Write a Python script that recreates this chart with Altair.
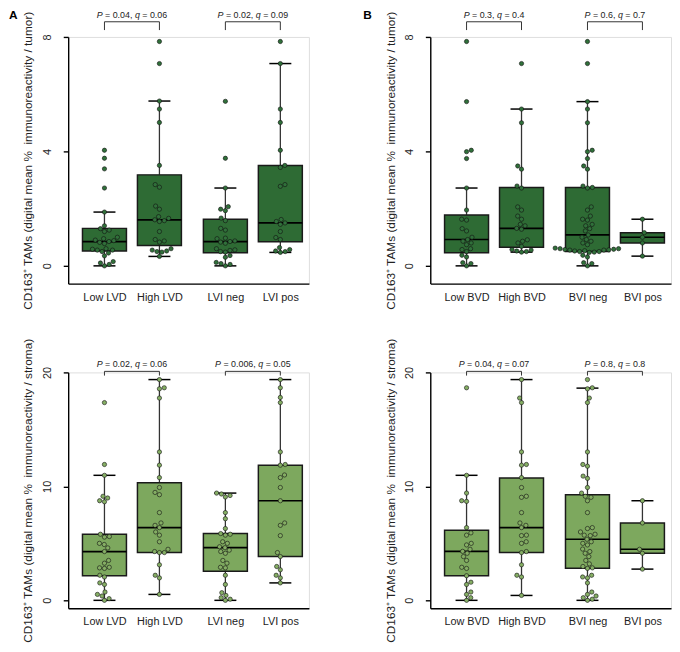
import math
import pandas as pd
import altair as alt

FONT = "Liberation Sans"

# ---------------- categories / positions ----------------
groups_a = ["Low LVD", "High LVD", "LVI neg", "LVI pos"]
groups_b = ["Low BVD", "High BVD", "BVI neg", "BVI pos"]
cat_pos = [1.0, 2.0, 3.2, 4.2]

title_top = "CD163\u207a TAMs (digital mean %\u00a0 immunoreactivity / tumor)"
title_bot = "CD163\u207a TAMs (digital mean %\u00a0 immunoreactivity / stroma)"

# ---------------- data: tumor (top row) ----------------
a_top_low_lvd = [4.04, 3.76, 3.39, 2.72, 1.88, 1.4, 1.3, 1.25, 1.2, 1.0, 0.95, 0.9, 0.88, 0.85,
                 0.82, 0.78, 0.6, 0.58, 0.55, 0.55, 0.5, 0.45, 0.35, 0.15, 0.1, 0.05, 0.0]
a_top_high_lvd = [7.84, 7.07, 5.76, 5.48, 5.01, 3.51, 2.84, 2.75, 2.09, 1.98, 1.72, 1.66, 1.61,
                  1.58, 1.55, 1.2, 0.92, 0.87, 0.83, 0.6, 0.55, 0.52, 0.5, 0.48, 0.33]
a_top_lvi_neg = [5.75, 3.76, 2.72, 2.07, 1.98, 1.93, 1.67, 1.58, 1.31, 1.25, 0.97, 0.95, 0.87,
                 0.85, 0.83, 0.79, 0.6, 0.56, 0.54, 0.5, 0.48, 0.36, 0.3, 0.12, 0.08, 0.05, 0.0]
a_top_lvi_pos = [7.84, 7.07, 5.48, 5.01, 4.04, 3.51, 3.44, 2.84, 2.78, 1.62, 1.55, 1.5, 1.45,
                 1.2, 0.99, 0.92, 0.64, 0.57, 0.52, 0.5, 0.47]

b_top_low_bvd = [7.84, 5.74, 4.04, 3.99, 3.75, 2.72, 1.95, 1.63, 1.6, 1.3, 1.22, 1.0, 0.92, 0.86,
                 0.8, 0.74, 0.6, 0.57, 0.5, 0.37, 0.31, 0.11, 0.08, 0.0]
b_top_high_bvd = [7.07, 5.48, 5.0, 3.49, 3.38, 2.79, 2.72, 2.06, 1.95, 1.74, 1.63, 1.45, 1.4,
                  1.31, 1.28, 0.91, 0.86, 0.8, 0.68, 0.57, 0.55, 0.52, 0.5, 0.48]
b_top_bvi_neg = [7.84, 7.07, 5.74, 5.48, 5.0, 4.04, 3.99, 3.75, 3.49, 3.38, 2.79, 2.74, 2.72,
                 2.06, 1.95, 1.74, 1.63, 1.6, 1.45, 1.4, 1.3, 1.22, 1.08, 1.0, 0.92, 0.86, 0.8,
                 0.74, 0.62, 0.6, 0.6, 0.58, 0.57, 0.56, 0.55, 0.55, 0.53, 0.52, 0.5, 0.5, 0.48,
                 0.47, 0.37, 0.31, 0.11, 0.08, 0.0]
b_top_bvi_pos = [1.63, 1.16, 1.0, 0.8, 0.34]

# box statistics: lower whisker, Q1, median, Q3, upper whisker
a_top_stats = [(0.0, 0.52, 0.85, 1.31, 1.88), (0.33, 0.71, 1.61, 3.18, 5.76),
               (0.0, 0.46, 0.85, 1.63, 2.72), (0.47, 0.84, 1.5, 3.51, 7.07)]
b_top_stats = [(0.0, 0.46, 0.92, 1.78, 2.72), (0.48, 0.65, 1.31, 2.74, 5.48),
               (0.0, 0.5, 1.08, 2.74, 5.74), (0.34, 0.8, 1.0, 1.16, 1.63)]

# ---------------- data: stroma (bottom row) ----------------
a_bot_low_lvd = [17.35, 11.92, 10.97, 9.13, 8.98, 8.74, 8.65, 5.8, 5.6, 5.55, 5.0, 4.9, 4.6, 4.28,
                 3.5, 3.26, 2.9, 2.85, 2.8, 2.2, 2.05, 1.53, 1.39, 0.73, 0.52, 0.38, 0.15, 0.0]
a_bot_high_lvd = [19.37, 18.65, 18.56, 17.75, 13.02, 11.86, 10.77, 9.9, 9.47, 9.27, 7.7, 6.79,
                  6.58, 6.38, 6.0, 5.72, 5.14, 4.48, 4.28, 4.19, 4.19, 3.12, 2.2, 1.97, 0.52]
a_bot_lvi_neg = [9.41, 9.33, 9.2, 9.07, 7.7, 7.16, 6.3, 5.86, 5.8, 5.72, 5.14, 5.0, 4.7, 4.62,
                 4.4, 4.28, 4.13, 3.5, 3.26, 2.9, 2.85, 2.2, 1.39, 0.67, 0.43, 0.23, 0.1, 0.0]
a_bot_lvi_pos = [19.37, 18.65, 17.8, 17.35, 13.02, 11.92, 11.86, 11.0, 10.77, 9.9, 8.74, 6.79,
                 6.58, 5.68, 4.19, 3.84, 2.97, 2.68, 2.2, 1.97, 1.53]

b_bot_low_bvd = [18.65, 10.97, 9.41, 8.74, 8.68, 6.38, 5.92, 5.72, 5.0, 4.86, 4.48, 4.3, 4.13,
                 3.84, 3.5, 2.9, 2.8, 2.16, 1.59, 1.39, 0.73, 0.52, 0.23, 0.0]
b_bot_high_bvd = [19.37, 17.75, 17.35, 13.02, 11.92, 11.86, 10.77, 9.9, 9.13, 9.04, 7.7, 6.79,
                  6.58, 6.38, 5.72, 5.68, 5.14, 5.0, 4.28, 4.19, 3.12, 2.2, 2.05, 0.43]
b_bot_bvi_neg = [19.37, 18.65, 18.56, 17.75, 17.35, 13.02, 11.92, 11.77, 10.9, 10.7, 9.9, 9.41,
                 9.13, 9.04, 8.74, 7.7, 6.38, 6.3, 6.0, 5.8, 5.72, 5.68, 5.36, 5.14, 5.0, 4.86,
                 4.5, 4.28, 4.13, 3.84, 3.5, 3.2, 2.97, 2.85, 2.8, 2.2, 2.05, 1.97, 1.53, 0.73,
                 0.52, 0.38, 0.23, 0.1, 0.0]
b_bot_bvi_pos = [8.74, 6.79, 4.48, 4.13, 2.74]

a_bot_stats = [(0.0, 2.16, 4.28, 5.8, 10.97), (0.52, 4.19, 6.38, 10.31, 19.37),
               (0.0, 2.55, 4.62, 5.86, 9.41), (1.53, 3.84, 8.74, 11.86, 19.37)]
b_bot_stats = [(0.0, 2.16, 4.3, 6.14, 10.97), (0.43, 4.19, 6.38, 10.74, 19.37),
               (0.0, 2.82, 5.36, 9.27, 18.62), (2.74, 4.13, 4.48, 6.79, 8.74)]

# ---------------- annotations (P / q values, bracket levels) ----------------
a_top_p, a_top_q = ["0.04", "0.02"], ["0.06", "0.09"]
b_top_p, b_top_q = ["0.3", "0.6"], ["0.4", "0.7"]
a_bot_p, a_bot_q = ["0.02", "0.006"], ["0.06", "0.05"]
b_bot_p, b_bot_q = ["0.04", "0.8"], ["0.07", "0.8"]
top_bracket, top_leg = 8.53, 8.24
bot_bracket, bot_leg = 20.09, 19.72

# ---------------- styling / layout ----------------
X_DOMAIN = [0.34, 4.72]
PANEL_W = 244
TOP_H, BOT_H = 250, 239
TOP_DOMAIN, BOT_DOMAIN = [-0.62, 8], [-0.69, 20]
DARK, LIGHT = "#2E6B34", "#7DA85E"
DARK_PT, LIGHT_PT = "#30703A", "#85AE64"
BOX_HALF, CAP_HALF = 0.4, 0.2
PPU_X = PANEL_W / (X_DOMAIN[1] - X_DOMAIN[0])
ANN_SIZE = 9
TXT = "#222222"
PT_SIZE = 19
PT_GAP = 5.0

CHAR_W = {" ": 278, "=": 584, ".": 278, ",": 278, "P": 667, "q": 556}


def text_width(s, size):
    return sum(CHAR_W.get(c, 556) for c in s) * size / 1000.0


def swarm_offsets(vals, ppu_y, d=PT_GAP):
    order = sorted(range(len(vals)), key=lambda i: vals[i])
    placed = []
    offs = [0.0] * len(vals)
    for k, i in enumerate(order):
        y = vals[i] * ppu_y
        cands = [0.0]
        for px, py in placed:
            dy = abs(py - y)
            if dy < d:
                dx = math.sqrt(d * d - dy * dy)
                cands += [px + dx, px - dx]
        cands.sort(key=lambda c: (round(abs(c), 6), -c if k % 2 else c))
        for c in cands:
            if all((c - px) ** 2 + (y - py) ** 2 >= d * d - 1e-6 for px, py in placed):
                offs[i] = c
                break
        placed.append((offs[i], y))
    return offs


def panel(groups, series, stats, pvals, qvals, bracket, leg, ydomain, yticks, height,
          ytitle, fill, ptfill, letter, letter_dx, title_x):
    ppu_y = height / (ydomain[1] - ydomain[0])
    xscale = alt.Scale(domain=X_DOMAIN, nice=False, zero=False)
    yscale = alt.Scale(domain=ydomain, nice=False, zero=False)
    expr = " : ".join(
        f"abs(datum.value - {p}) < 0.01 ? '{g}'" for g, p in zip(groups, cat_pos)) + " : ''"
    xaxis = alt.Axis(values=cat_pos, labelExpr=expr, ticks=False, tickSize=0, grid=False,
                     domainColor="#000000", domainWidth=1.4, labelFontSize=11,
                     labelColor=TXT, labelPadding=8, labelFont=FONT, title=None)
    yaxis = alt.Axis(values=yticks, grid=False, tickSize=5, tickColor="#000000", tickWidth=1.4,
                     domainColor="#000000", domainWidth=1.4, labelAngle=270,
                     labelAlign="center", labelBaseline="bottom", labelFontSize=11,
                     labelColor=TXT, labelPadding=11, labelFont=FONT, title=ytitle,
                     titleFontSize=12, titleFont=FONT, titleFontWeight="normal",
                     titleColor=TXT, titleAngle=270, titleAlign="center",
                     titleBaseline="middle", titleX=title_x, titleY=height / 2)

    def X(f):
        return alt.X(f, type="quantitative", scale=xscale, axis=xaxis)

    def Y(f):
        return alt.Y(f, type="quantitative", scale=yscale, axis=yaxis)

    rows = []
    for g, p, vals in zip(groups, cat_pos, series):
        offs = swarm_offsets(vals, ppu_y)
        for v, o in zip(vals, offs):
            rows.append({"group": g, "px": p + o / PPU_X, "v": v})
    pts = pd.DataFrame(rows)

    boxes = pd.DataFrame([
        {"group": g, "pos": p, "bl": p - BOX_HALF, "br": p + BOX_HALF,
         "cl": p - CAP_HALF, "cr": p + CAP_HALF,
         "lo": s[0], "q1": s[1], "med": s[2], "q3": s[3], "hi": s[4]}
        for g, p, s in zip(groups, cat_pos, stats)])

    pairs = [(0, 1), (2, 3)]
    sp = text_width(" ", ANN_SIZE)
    br_rows, leg_rows, seg_rows = [], [], []
    for (a, b), pv, qv in zip(pairs, pvals, qvals):
        xa, xb = cat_pos[a], cat_pos[b]
        br_rows.append({"x1": xa, "x2": xb, "y": bracket})
        leg_rows += [{"x": xa, "y1": leg, "y2": bracket}, {"x": xb, "y1": leg, "y2": bracket}]
        # pieces with the gap (in spaces) that precedes each of them
        segs = [("P", True, 0), ("= " + pv + ",", False, 1), ("q", True, 1),
                ("= " + qv, False, 1)]
        total = sum(text_width(s, ANN_SIZE) + g * sp for s, _, g in segs)
        cx = (xa + xb) / 2
        cur = -total / 2
        for s, it, g in segs:
            cur += g * sp
            seg_rows.append({"x": cx + cur / PPU_X, "y": bracket, "t": s,
                             "style": "italic" if it else "normal"})
            cur += text_width(s, ANN_SIZE)
    brk = pd.DataFrame(br_rows)
    legs = pd.DataFrame(leg_rows)
    segdf = pd.DataFrame(seg_rows)

    whisk_lo = alt.Chart(boxes).mark_rule(color="#333333", strokeWidth=1.3).encode(
        x=X("pos"), y=Y("lo"), y2=alt.Y2("q1"))
    whisk_hi = alt.Chart(boxes).mark_rule(color="#333333", strokeWidth=1.3).encode(
        x=X("pos"), y=Y("q3"), y2=alt.Y2("hi"))
    cap_lo = alt.Chart(boxes).mark_rule(color="#000000", strokeWidth=1.5).encode(
        x=X("cl"), x2=alt.X2("cr"), y=Y("lo"))
    cap_hi = alt.Chart(boxes).mark_rule(color="#000000", strokeWidth=1.5).encode(
        x=X("cl"), x2=alt.X2("cr"), y=Y("hi"))
    box = alt.Chart(boxes).mark_rect(fill=fill, stroke="#1a1a1a", strokeWidth=1.5).encode(
        x=X("bl"), x2=alt.X2("br"), y=Y("q1"), y2=alt.Y2("q3"))
    med = alt.Chart(boxes).mark_rule(color="#000000", strokeWidth=1.7).encode(
        x=X("bl"), x2=alt.X2("br"), y=Y("med"))
    points = alt.Chart(pts).mark_circle(size=PT_SIZE, fill=ptfill, stroke="#111111",
                                        strokeWidth=0.6, opacity=1).encode(
        x=X("px"), y=Y("v"))
    bracket_h = alt.Chart(brk).mark_rule(color="#333333", strokeWidth=1.0).encode(
        x=X("x1"), x2=alt.X2("x2"), y=Y("y"))
    bracket_v = alt.Chart(legs).mark_rule(color="#333333", strokeWidth=1.0).encode(
        x=X("x"), y=Y("y1"), y2=alt.Y2("y2"))
    ann_it = alt.Chart(segdf).transform_filter("datum.style == 'italic'").mark_text(
        align="left", baseline="alphabetic", dy=-4, fontSize=ANN_SIZE, font=FONT,
        fontStyle="italic", color=TXT).encode(x=X("x"), y=Y("y"), text="t:N")
    ann_n = alt.Chart(segdf).transform_filter("datum.style == 'normal'").mark_text(
        align="left", baseline="alphabetic", dy=-4, fontSize=ANN_SIZE, font=FONT,
        color=TXT).encode(x=X("x"), y=Y("y"), text="t:N")
    layers = [whisk_lo, whisk_hi, cap_lo, cap_hi, box, med, points,
              bracket_h, bracket_v, ann_it, ann_n]
    if letter:
        lab = alt.Chart(pd.DataFrame({"t": [letter]})).mark_text(
            align="left", baseline="top", fontSize=12, fontWeight="bold", font=FONT,
            color="#000000").encode(x=alt.value(letter_dx), y=alt.value(-27), text="t:N")
        layers.append(lab)
    return alt.layer(*layers).properties(width=PANEL_W, height=height)


a_top = panel(groups_a, [a_top_low_lvd, a_top_high_lvd, a_top_lvi_neg, a_top_lvi_pos],
              a_top_stats, a_top_p, a_top_q, top_bracket, top_leg, TOP_DOMAIN, [0, 4, 8],
              TOP_H, title_top, DARK, DARK_PT, "A", -60, -41)
b_top = panel(groups_b, [b_top_low_bvd, b_top_high_bvd, b_top_bvi_neg, b_top_bvi_pos],
              b_top_stats, b_top_p, b_top_q, top_bracket, top_leg, TOP_DOMAIN, [0, 4, 8],
              TOP_H, title_top, DARK, DARK_PT, "B", -68, -40)
a_bot = panel(groups_a, [a_bot_low_lvd, a_bot_high_lvd, a_bot_lvi_neg, a_bot_lvi_pos],
              a_bot_stats, a_bot_p, a_bot_q, bot_bracket, bot_leg, BOT_DOMAIN, [0, 10, 20],
              BOT_H, title_bot, LIGHT, LIGHT_PT, "", 0, -41)
b_bot = panel(groups_b, [b_bot_low_bvd, b_bot_high_bvd, b_bot_bvi_neg, b_bot_bvi_pos],
              b_bot_stats, b_bot_p, b_bot_q, bot_bracket, bot_leg, BOT_DOMAIN, [0, 10, 20],
              BOT_H, title_bot, LIGHT, LIGHT_PT, "", 0, -40)

chart = alt.concat(a_top, b_top, a_bot, b_bot, columns=2,
                   spacing={"row": 90, "column": 123}, bounds="flush", align="each"
                   ).properties(padding={"top": -4, "left": 0, "right": 0, "bottom": 0}
                                ).configure_view(stroke="transparent").configure(font=FONT)

chart.save("out.html", embed_options={"renderer": "svg", "actions": False})
